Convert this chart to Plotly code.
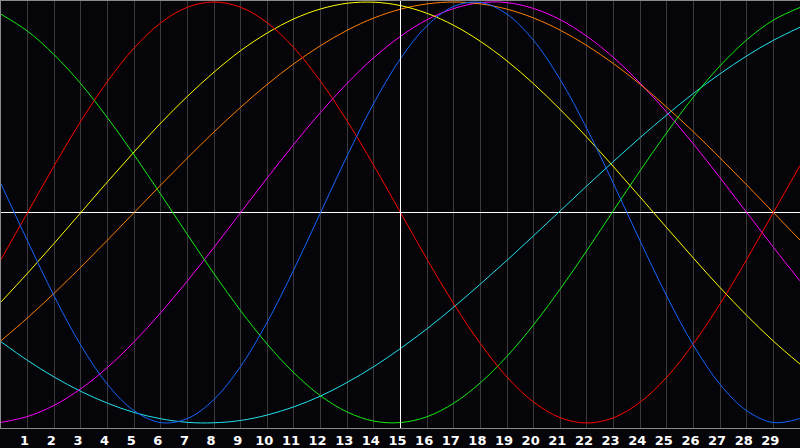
import plotly.graph_objects as go

days = list(range(0, 31))
tick_days = list(range(1, 30))

red = [-0.223, 0, 0.223, 0.434, 0.623, 0.782, 0.901, 0.975, 1, 0.975, 0.901, 0.782, 0.623, 0.434, 0.223, 0,
       -0.223, -0.434, -0.623, -0.782, -0.901, -0.975, -1, -0.975, -0.901, -0.782, -0.623, -0.434, -0.223, 0, 0.223]
blue = [0.136, -0.136, -0.398, -0.631, -0.817, -0.942, -0.998, -0.979, -0.888, -0.731, -0.520, -0.270, 0, 0.270,
        0.520, 0.731, 0.888, 0.979, 0.998, 0.942, 0.817, 0.631, 0.398, 0.136, -0.136, -0.398, -0.631, -0.817,
        -0.942, -0.998, -0.979]
green = [0.942, 0.861, 0.749, 0.611, 0.450, 0.273, 0.086, -0.105, -0.291, -0.467, -0.626, -0.762, -0.871, -0.948,
         -0.991, -0.998, -0.970, -0.906, -0.809, -0.683, -0.533, -0.363, -0.180, 0.010, 0.199, 0.380, 0.549,
         0.697, 0.820, 0.914, 0.974]
yellow = [-0.425, -0.288, -0.146, 0, 0.146, 0.288, 0.425, 0.552, 0.667, 0.769, 0.853, 0.920, 0.967, 0.994, 0.999,
          0.983, 0.946, 0.889, 0.813, 0.720, 0.611, 0.489, 0.357, 0.217, 0.073, -0.073, -0.217, -0.357, -0.489,
          -0.611, -0.720]
orange = [-0.609, -0.5, -0.383, -0.259, -0.131, 0, 0.131, 0.259, 0.383, 0.5, 0.609, 0.707, 0.793, 0.866, 0.924,
          0.966, 0.991, 1, 0.991, 0.966, 0.924, 0.866, 0.793, 0.707, 0.609, 0.5, 0.383, 0.259, 0.131, 0, -0.131]
magenta = [-0.997, -0.969, -0.916, -0.837, -0.736, -0.614, -0.476, -0.325, -0.165, 0, 0.165, 0.325, 0.476, 0.614,
           0.736, 0.837, 0.916, 0.969, 0.997, 0.997, 0.969, 0.916, 0.837, 0.736, 0.614, 0.476, 0.325, 0.165, 0,
           -0.165, -0.325]
cyan = [-0.614, -0.703, -0.782, -0.850, -0.906, -0.950, -0.980, -0.997, -0.999, -0.988, -0.962, -0.923, -0.872,
        -0.807, -0.732, -0.646, -0.552, -0.449, -0.340, -0.227, -0.110, 0.008, 0.127, 0.243, 0.356, 0.464, 0.566,
        0.659, 0.744, 0.818, 0.880]

series = [
    (cyan, "#22e2ee"),
    (magenta, "#ff00ff"),
    (orange, "#ff8000"),
    (yellow, "#ffff00"),
    (green, "#11ee11"),
    (red, "#ff0000"),
    (blue, "#1464ff"),
]

fig = go.Figure()
for vals, col in series:
    fig.add_trace(go.Scatter(x=days, y=vals, mode="lines",
                             line=dict(color=col, width=1, shape="spline", smoothing=1),
                             hoverinfo="skip", showlegend=False))

fig.add_shape(type="line", xref="x", yref="paper", x0=15, x1=15, y0=0, y1=1,
              line=dict(color="#ffffff", width=1), layer="above")

fig.update_layout(
    width=800, height=448,
    margin=dict(l=1, r=0, t=1, b=20),
    paper_bgcolor="#050408",
    plot_bgcolor="#050408",
    showlegend=False,
    xaxis=dict(range=[0, 30], tickvals=tick_days, ticktext=[f"<b>{d}</b>" for d in tick_days],
               showgrid=True, gridcolor="#3a3a3a", gridwidth=1, zeroline=False,
               showline=True, linecolor="#8a8a8a", linewidth=1, mirror=True,
               ticks="", ticklabelshift=-3, ticklabelstandoff=0,
               tickfont=dict(family="DejaVu Sans", size=13, color="#ffffff"), fixedrange=True),
    yaxis=dict(range=[-1.0238, 1.00475], showgrid=False, showticklabels=False, ticks="",
               zeroline=True, zerolinecolor="#ffffff", zerolinewidth=1,
               showline=True, linecolor="#8a8a8a", linewidth=1, mirror=True, fixedrange=True),
)

fig.write_html("out.html", config={"displayModeBar": False, "staticPlot": True},
               post_script="document.body.style.margin='0';document.body.style.overflow='hidden';document.body.style.background='#050408';")
